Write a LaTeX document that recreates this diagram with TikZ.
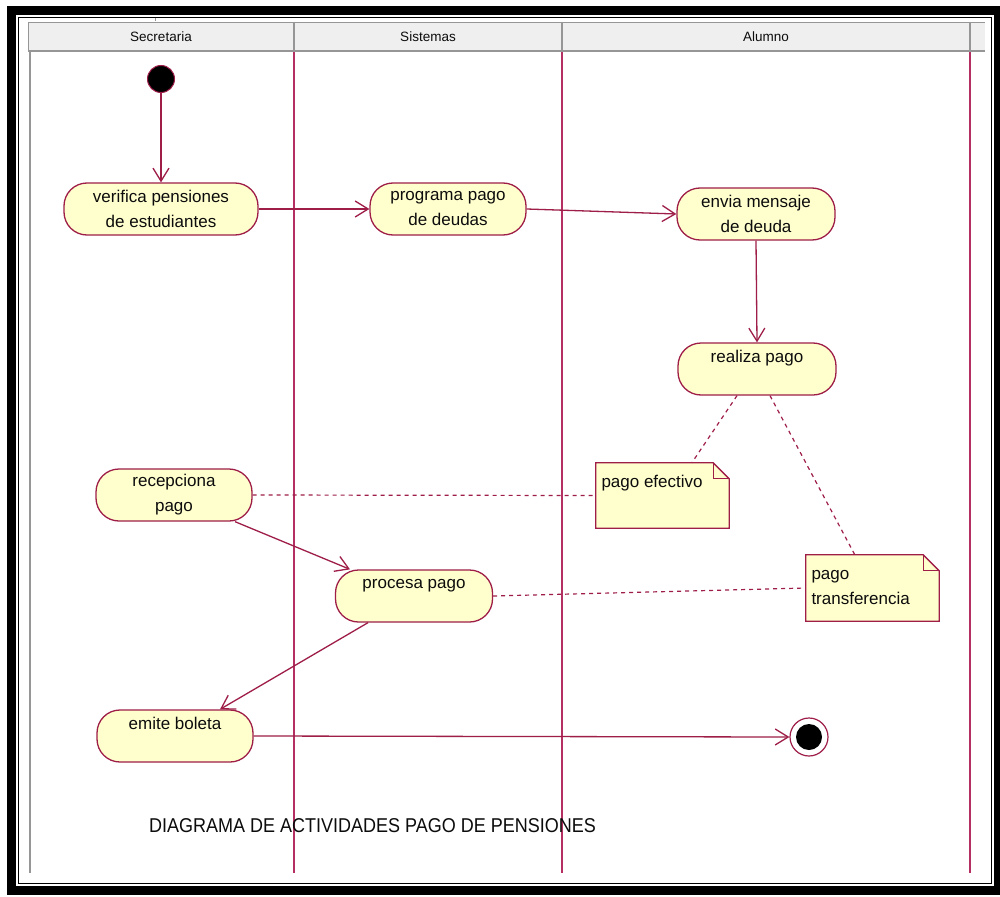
\documentclass[tikz,border=0pt]{standalone}
\usepackage{fontspec}
\setmainfont{Liberation Sans}
\usetikzlibrary{arrows.meta,calc}
\definecolor{edgered}{RGB}{158,30,72}
\definecolor{lanered}{RGB}{180,48,98}
\definecolor{actfill}{RGB}{255,255,206}
\definecolor{headfill}{RGB}{239,239,239}
\definecolor{headline}{RGB}{150,150,150}
\definecolor{inkgray}{RGB}{12,12,12}

\begin{document}
\begin{tikzpicture}[x=1pt,y=-1pt,
  activity/.style={draw=edgered, fill=actfill, line width=1.3pt,
    rounded corners=23pt, minimum height=52pt, align=center,
    inner sep=0pt, text=inkgray, font=\fontsize{17}{25}\selectfont},
  notebox/.style={inner sep=0pt},
  notedraw/.style={draw=edgered, fill=actfill, line width=1.3pt},
  notetext/.style={anchor=north west, inner sep=0pt, align=left,
    text=inkgray, font=\fontsize{17}{25}\selectfont},
  flow/.style={draw=edgered, line width=1.3pt,
    -{Straight Barb[length=13pt,width=16pt,line width=1.3pt]}},
  anchorline/.style={draw=edgered, line width=1.2pt, dash pattern=on 4pt off 4pt},
  lane/.style={draw=lanered, line width=1.3pt},
  lanelabel/.style={font=\fontsize{13.5}{16}\selectfont, text=inkgray}
]
\useasboundingbox (0,0) rectangle (1000,896);
\fill[white] (0,0) rectangle (1000,896);

% outer double frame
\draw[line width=9pt] (11,11) rectangle (998.5,890.5);
\draw[line width=1.5pt] (18.5,17.5) rectangle (991.5,883.5);

% swimlane header
\fill[headfill] (28,22) rectangle (985,52);
\draw[headline, line width=0.8pt] (28,22) -- (985,22);
\draw[headline, line width=2pt] (28,51) -- (985,51);
\draw[headline, line width=1pt] (28.5,22) -- (28.5,52);
\foreach \xx in {294,562,970}
  \draw[headline, line width=1.2pt] (\xx,22) -- (\xx,52);
\draw[headline, line width=0.8pt] (155,18) -- (155,21);

\node[lanelabel] (lbl-sec) at (161,37) {Secretaria};
\node[lanelabel] (lbl-sis) at (428,37) {Sistemas};
\node[lanelabel] (lbl-alu) at (766,37) {Alumno};

% lane borders
\draw[headline, line width=2pt] (29.5,52) -- (29.5,873);
\foreach \xx in {294,562,970}
  \draw[lane] (\xx,52) -- (\xx,873);

% initial and final states
\node[circle, fill=black, draw=edgered, line width=1pt, minimum size=27pt, inner sep=0pt] (start) at (161,79) {};
\node[circle, fill=white, draw=edgered, line width=1.2pt, minimum size=38pt, inner sep=0pt] (final) at (809,737) {};
\node[circle, fill=black, minimum size=26pt, inner sep=0pt] (final-dot) at (final.center) {};

% activities
\node[activity, minimum width=194pt] (verifica) at (161,209) {verifica pensiones\\de estudiantes};
\node[activity, minimum width=156pt] (programa) at (448,209) {programa pago\\de deudas};
\node[activity, minimum width=158pt] (envia) at (756,214) {envia mensaje\\de deuda};
\node[activity, minimum width=158pt] (realiza) at (757,369) {realiza pago\\\mbox{}};
\node[activity, minimum width=156pt] (recepciona) at (174,495) {recepciona\\pago};
\node[activity, minimum width=157pt] (procesa) at (414,596) {procesa pago\\\mbox{}};
\node[activity, minimum width=156pt] (emite) at (175,736) {emite boleta\\\mbox{}};

% notes
\node[notebox, minimum width=133pt, minimum height=65pt] (efectivo) at (662.5,495.5) {};
\draw[notedraw] (efectivo.north west) -- ([xshift=-16pt]efectivo.north east)
  -- ([yshift=-16pt]efectivo.north east) -- (efectivo.south east)
  -- (efectivo.south west) -- cycle;
\draw[edgered, line width=1.3pt] ([xshift=-16pt]efectivo.north east)
  -- ([xshift=-16pt,yshift=-16pt]efectivo.north east) -- ([yshift=-16pt]efectivo.north east);
\node[notetext] (efectivo-t) at ([xshift=5.5pt,yshift=-11.5pt]efectivo.north west)
  {\rule{0pt}{12.5pt}pago efectivo};

\node[notebox, minimum width=133pt, minimum height=66pt] (transf) at (872.5,588) {};
\draw[notedraw] (transf.north west) -- ([xshift=-16pt]transf.north east)
  -- ([yshift=-16pt]transf.north east) -- (transf.south east)
  -- (transf.south west) -- cycle;
\draw[edgered, line width=1.3pt] ([xshift=-16pt]transf.north east)
  -- ([xshift=-16pt,yshift=-16pt]transf.north east) -- ([yshift=-16pt]transf.north east);
\node[notetext] (transf-t) at ([xshift=5.5pt,yshift=-11.5pt]transf.north west)
  {\rule{0pt}{12.5pt}pago\\transferencia};

% control flow
\draw[flow] (start) -- (verifica.north);
\draw[flow] (verifica.east) -- (programa.west);
\draw[flow] (programa.east) -- (envia.west);
\draw[flow] (envia.south) -- (realiza.north);
\draw[flow] ([xshift=61pt]recepciona.south) -- ([xshift=-64pt]procesa.north);
\draw[flow] ([xshift=-46pt]procesa.south) -- ([xshift=45pt]emite.north);
\draw[flow] (emite.east) -- (final.west);

% note anchors
\draw[anchorline] ([xshift=-20pt]realiza.south) -- ([xshift=96pt]efectivo.north west);
\draw[anchorline] ([xshift=13pt]realiza.south) -- ([xshift=49pt]transf.north west);
\draw[anchorline] (recepciona.east) -- (efectivo.west);
\draw[anchorline] (procesa.east) -- (transf.west);

% caption
\node[text=inkgray, font=\fontsize{20}{24}\selectfont] (caption) at (372.5,826)
  {\scalebox{0.9}[1]{DIAGRAMA DE ACTIVIDADES PAGO DE PENSIONES}};
\end{tikzpicture}
\end{document}
